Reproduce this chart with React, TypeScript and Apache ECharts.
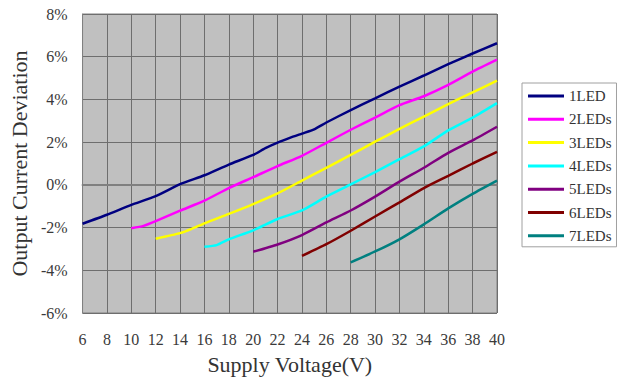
import React, { useEffect, useRef } from "react";
import * as echarts from "echarts";

const seriesNames = ["1LED", "2LEDs", "3LEDs", "4LEDs", "5LEDs", "6LEDs", "7LEDs"];
const seriesColors = ["#000080", "#FF00FF", "#FFFF00", "#00FFFF", "#800080", "#800000", "#008080"];

const volts1 = [6, 8, 10, 12, 14, 16, 18, 20, 21, 22, 23, 24, 25, 26, 28, 30, 32, 34, 36, 38, 40];
const dev1 = [-1.82, -1.4, -0.94, -0.53, 0.03, 0.45, 0.95, 1.4, 1.72, 1.98, 2.2, 2.4, 2.6, 2.92, 3.5, 4.05, 4.6, 5.12, 5.65, 6.15, 6.63];

const volts2 = [10, 11, 12, 14, 16, 18, 20, 22, 24, 26, 28, 30, 32, 34, 36, 38, 40];
const dev2 = [-2.03, -1.92, -1.7, -1.21, -0.74, -0.15, 0.36, 0.88, 1.36, 1.97, 2.58, 3.15, 3.73, 4.15, 4.68, 5.3, 5.86];

const volts3 = [12, 14, 15, 16, 18, 20, 22, 24, 26, 28, 30, 32, 34, 36, 38, 40];
const dev3 = [-2.52, -2.26, -2.05, -1.8, -1.36, -0.9, -0.4, 0.2, 0.8, 1.4, 2.02, 2.62, 3.2, 3.78, 4.33, 4.88];

const volts4 = [16, 17, 18, 20, 22, 24, 26, 28, 30, 32, 34, 36, 38, 40];
const dev4 = [-2.9, -2.82, -2.55, -2.13, -1.6, -1.2, -0.55, 0.02, 0.6, 1.2, 1.8, 2.55, 3.15, 3.83];

const volts5 = [20, 22, 24, 26, 28, 30, 32, 34, 36, 38, 40];
const dev5 = [-3.13, -2.79, -2.35, -1.76, -1.2, -0.55, 0.15, 0.8, 1.5, 2.08, 2.72];

const volts6 = [24, 26, 28, 30, 32, 34, 36, 38, 40];
const dev6 = [-3.33, -2.78, -2.15, -1.48, -0.82, -0.15, 0.42, 1.0, 1.55];

const volts7 = [28, 30, 32, 34, 36, 38, 40];
const dev7 = [-3.63, -3.12, -2.55, -1.85, -1.1, -0.42, 0.2];

const allVolts = [volts1, volts2, volts3, volts4, volts5, volts6, volts7];
const allDevs = [dev1, dev2, dev3, dev4, dev5, dev6, dev7];

const xTitle = "Supply Voltage(V)";
const yTitle = "Output Current Deviation";

const FONT = "'Liberation Serif', 'DejaVu Serif', serif";

export default function App() {
  const ref = useRef<HTMLDivElement>(null);
  useEffect(() => {
    if (!ref.current) return;
    const chart = echarts.init(ref.current, undefined, { renderer: "svg" });
    const series = seriesNames.map((name, i) => ({
      name,
      type: "line",
      data: allVolts[i].map((v, j) => [v, allDevs[i][j]]),
      symbol: "none",
      showSymbol: false,
      smooth: 0.2,
      lineStyle: { color: seriesColors[i], width: 2.5 },
      itemStyle: { color: seriesColors[i] },
    }));
    chart.setOption({
      animation: false,
      backgroundColor: "#ffffff",
      grid: {
        left: 78,
        right: 125,
        top: 14,
        bottom: 64,
        show: true,
        backgroundColor: "#C0C0C0",
        borderColor: "#808080",
        borderWidth: 1,
      },
      xAxis: {
        type: "value",
        min: 6,
        max: 40,
        interval: 2,
        name: xTitle,
        nameLocation: "middle",
        nameGap: 40,
        nameTextStyle: { fontFamily: FONT, fontSize: 22, color: "#333" },
        axisLine: { show: true, lineStyle: { color: "#808080", width: 2 } },
        axisTick: { show: false },
        axisLabel: { fontFamily: FONT, fontSize: 16, color: "#3a3a3a", margin: 18 },
        splitLine: { show: true, lineStyle: { color: "#6e6e6e", width: 1 } },
      },
      yAxis: {
        type: "value",
        min: -6,
        max: 8,
        interval: 2,
        name: yTitle,
        nameLocation: "middle",
        nameGap: 49,
        nameTextStyle: { fontFamily: FONT, fontSize: 22, color: "#333" },
        axisLine: { show: true, lineStyle: { color: "#808080", width: 1 } },
        axisTick: { show: false },
        axisLabel: { fontFamily: FONT, fontSize: 16, color: "#3a3a3a", margin: 15, formatter: "{value}%" },
        splitLine: { show: true, lineStyle: { color: "#6e6e6e", width: 1 } },
      },
      legend: {
        orient: "vertical",
        left: 522,
        top: 83,
        padding: [5, 5, 3, 6],
        backgroundColor: "#ffffff",
        borderColor: "#a0a0a0",
        borderWidth: 1,
        icon: "rect",
        itemWidth: 36,
        itemHeight: 3,
        itemGap: 7.3,
        textStyle: { fontFamily: FONT, fontSize: 15, lineHeight: 16, color: "#333" },
        data: seriesNames,
      },
      series,
    });
    return () => chart.dispose();
  }, []);
  return (
    <div
      ref={ref}
      style={{ position: "fixed", left: 0, top: 0, width: 622, height: 380 }}
    />
  );
}
